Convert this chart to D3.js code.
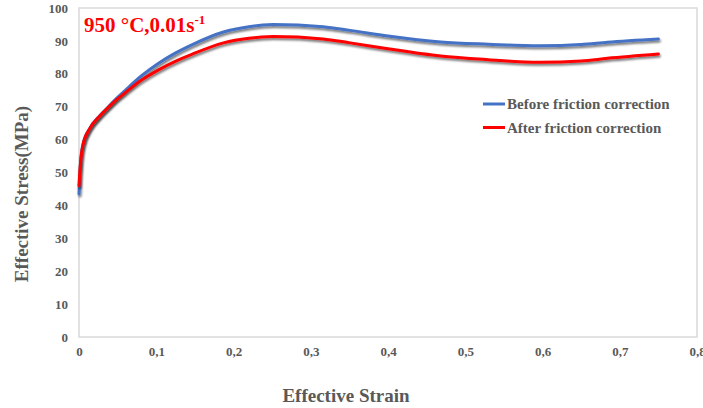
<!DOCTYPE html>
<html>
<head>
<meta charset="utf-8">
<script src="https://cdn.jsdelivr.net/npm/d3@7"></script>
<style>
    body { margin: 0; background: #fff; }
    text { font-family: "Liberation Serif", "Times New Roman", serif; font-weight: bold; }
</style>
</head>
<body>
<script>
// strain values
const strainBefore = [0, 0.001, 0.002, 0.005, 0.014, 0.027, 0.038, 0.049, 0.06, 0.081, 0.103, 0.124, 0.146, 0.187, 0.22, 0.251, 0.316, 0.351, 0.4, 0.468, 0.53, 0.597, 0.65, 0.684, 0.75]
const stressBefore = [43.5, 49, 53, 58.3, 63.4, 67.3, 70, 72.6, 75, 79.4, 83.2, 86.2, 88.8, 92.7, 94.3, 95.0, 94.3, 93.2, 91.5, 89.7, 89.0, 88.5, 88.9, 89.6, 90.6]

const strainAfter = [0, 0.001, 0.002, 0.005, 0.014, 0.027, 0.038, 0.049, 0.06, 0.081, 0.103, 0.124, 0.146, 0.187, 0.22, 0.251, 0.316, 0.351, 0.4, 0.468, 0.53, 0.597, 0.65, 0.684, 0.75]
const stressAfter = [46, 50, 53, 58.3, 63.4, 67.2, 69.8, 72.2, 74.3, 78.1, 81.2, 83.7, 85.9, 89.4, 90.8, 91.3, 90.6, 89.4, 87.6, 85.4, 84.3, 83.5, 83.9, 84.7, 86.0]

const xTicks = [0, 0.1, 0.2, 0.3, 0.4, 0.5, 0.6, 0.7, 0.8]
const yTicks = [0, 10, 20, 30, 40, 50, 60, 70, 80, 90, 100]
const seriesNames = ["Before friction correction", "After friction correction"]
const seriesColors = ["#4472c4", "#ff0000"]

const width = 703
const height = 408
const margin = {left: 79, right: 6, top: 8, bottom: 71}
const textColor = "#595959"
const frameColor = "#d9d9d9"

const svg = d3.select("body").append("svg")
    .attr("width", width)
    .attr("height", height)

const filter = svg.append("defs").append("filter")
    .attr("id", "shadow")
    .attr("x", "-5%").attr("y", "-20%")
    .attr("width", "110%").attr("height", "140%")
filter.append("feDropShadow")
    .attr("dx", 1).attr("dy", 2)
    .attr("stdDeviation", 1)
    .attr("flood-color", "#000")
    .attr("flood-opacity", 0.55)

const x = d3.scaleLinear().domain([0, 0.8]).range([margin.left, width - margin.right])
const y = d3.scaleLinear().domain([0, 100]).range([height - margin.bottom, margin.top])

// frame
svg.append("rect")
    .attr("x", x(0)).attr("y", y(100))
    .attr("width", x(0.8) - x(0)).attr("height", y(0) - y(100))
    .attr("fill", "none")
    .attr("stroke", frameColor)
    .attr("stroke-width", 1.5)

const fmt = d => d === 0 ? "0" : d3.format(".1f")(d).replace(".", ",")

const xAxis = svg.append("g")
    .attr("transform", `translate(0,${y(0)})`)
    .call(d3.axisBottom(x).tickValues(xTicks).tickFormat(fmt).tickSize(0).tickPadding(10))
xAxis.select(".domain").remove()
xAxis.selectAll("text")
    .attr("fill", textColor)
    .style("font-size", "13px")

const yAxis = svg.append("g")
    .attr("transform", `translate(${x(0)},0)`)
    .call(d3.axisLeft(y).tickValues(yTicks).tickSize(0).tickPadding(11))
yAxis.select(".domain").remove()
yAxis.selectAll("text")
    .attr("fill", textColor)
    .style("font-size", "13px")

// curves
const line = d3.line()
    .x(d => x(d[0]))
    .y(d => y(d[1]))
    .curve(d3.curveMonotoneX)

const series = [
    d3.zip(strainBefore, stressBefore),
    d3.zip(strainAfter, stressAfter)
]

svg.append("g")
    .selectAll("path")
    .data(series)
    .enter().append("path")
    .attr("d", line)
    .attr("fill", "none")
    .attr("stroke", (d, i) => seriesColors[i])
    .attr("stroke-width", 3)
    .attr("stroke-linecap", "round")
    .attr("filter", "url(#shadow)")

// legend
const legend = svg.append("g")
    .selectAll("g")
    .data(seriesNames)
    .enter().append("g")
    .attr("transform", (d, i) => `translate(483,${104 + i * 23.5})`)
legend.append("line")
    .attr("x1", 0).attr("x2", 22)
    .attr("stroke", (d, i) => seriesColors[i])
    .attr("stroke-width", 3)
legend.append("text")
    .attr("x", 24)
    .attr("dy", "0.35em")
    .attr("fill", textColor)
    .style("font-size", "15px")
    .text(d => d)

// condition label
const title = svg.append("text")
    .attr("x", 84)
    .attr("y", 32)
    .attr("fill", "#ff0000")
    .style("font-size", "21px")
title.append("tspan").text("950 °C,0.01s")
title.append("tspan")
    .attr("dy", -8)
    .style("font-size", "13px")
    .text("-1")

// axis titles
svg.append("text")
    .attr("x", 346)
    .attr("y", 402)
    .attr("text-anchor", "middle")
    .attr("fill", textColor)
    .style("font-size", "19px")
    .text("Effective Strain")

svg.append("text")
    .attr("transform", `translate(28,194) rotate(-90)`)
    .attr("text-anchor", "middle")
    .attr("fill", textColor)
    .style("font-size", "19px")
    .text("Effective Stress(MPa)")
</script>
</body>
</html>
